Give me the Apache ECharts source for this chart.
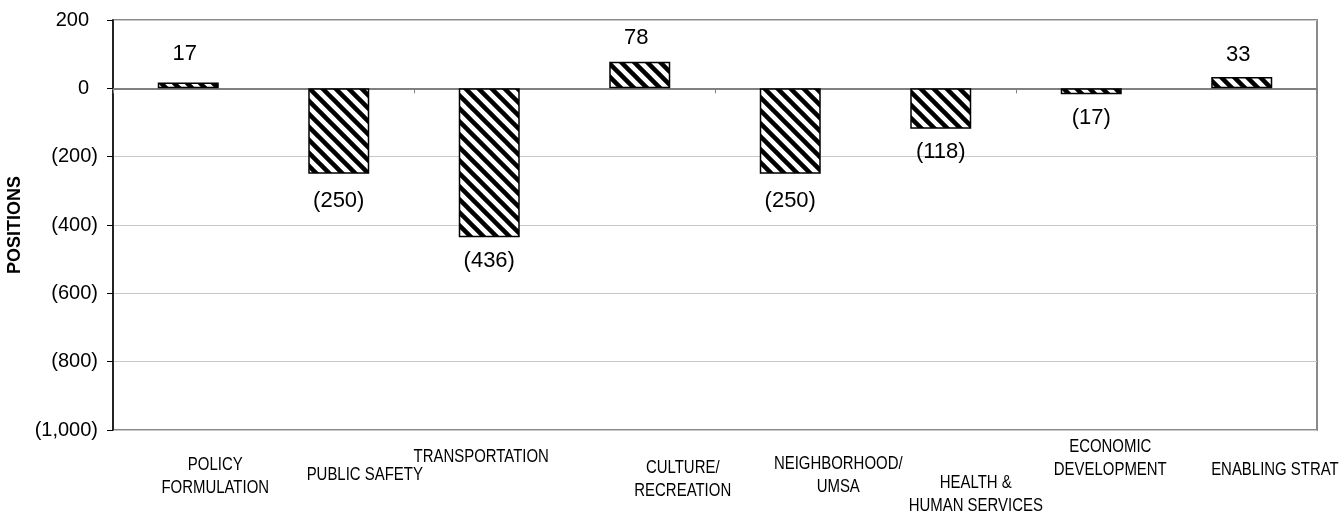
<!DOCTYPE html>
<html>
<head>
<meta charset="utf-8">
<script src="https://cdn.jsdelivr.net/npm/echarts@6/dist/echarts.min.js"></script>
<style>
  html, body { margin: 0; padding: 0; background: #fff; }
  #chart { width: 1339px; height: 514px; }
</style>
</head>
<body>
<div id="chart"></div>
<script>
// Departments and change in positions
const categories = [
  'POLICY\nFORMULATION',
  'PUBLIC SAFETY',
  'TRANSPORTATION',
  'CULTURE/\nRECREATION',
  'NEIGHBORHOOD/\nUMSA',
  'HEALTH &\nHUMAN SERVICES',
  'ECONOMIC\nDEVELOPMENT',
  'ENABLING STRATEGIES'
];
const positions = [17, -250, -436, 78, -250, -118, -17, 33];

// Value axis range
const yMin = -1000;
const yMax = 200;
const yStep = 200;

// Staggered placement of the category labels (offset from category centre / plot bottom)
const labelDx = [27, 26, -8, 43, 48, 35, 19, 56];
const labelDy = [23.5, 34, 16, 26.5, 22.5, 41.5, 5.5, 28.5];
// Gap between bar end and its value label
const valueGap = [18, 16, 13, 13, 16, 12.5, 13, 11.5];

const FONT = '"Liberation Sans", Arial, sans-serif';

function fmt(v) {
  const a = Math.abs(v).toLocaleString('en-US');
  return v < 0 ? '(' + a + ')' : a;
}

// Diagonal hatch fill for the bars
function hatchPattern() {
  const s = 13;
  const c = document.createElement('canvas');
  c.width = s; c.height = s;
  const g = c.getContext('2d');
  g.fillStyle = '#fff';
  g.fillRect(0, 0, s, s);
  g.strokeStyle = '#000';
  g.lineWidth = 4.5;
  for (const k of [-1, 0, 1]) {
    g.beginPath();
    g.moveTo(-2, -2 + k * s);
    g.lineTo(s + 2, s + 2 + k * s);
    g.stroke();
  }
  return c;
}

const chart = echarts.init(document.getElementById('chart'), null, { renderer: 'canvas' });

const option = {
  animation: false,
  backgroundColor: '#fff',
  grid: {
    left: 113, right: 22, top: 20, bottom: 84,
    containLabel: false,
    outerBoundsMode: 'none',
    show: true,
    borderColor: '#8a8a8a',
    borderWidth: 2,
    backgroundColor: 'transparent'
  },
  xAxis: [{
    type: 'category',
    data: categories,
    axisLine: { onZero: true, lineStyle: { color: '#808080', width: 2 } },
    axisTick: { show: true, inside: false, length: 5, lineStyle: { color: '#808080', width: 1 } },
    axisLabel: { show: false },
    splitLine: { show: false }
  }],
  yAxis: {
    type: 'value',
    min: yMin,
    max: yMax,
    interval: yStep,
    name: 'POSITIONS',
    nameLocation: 'middle',
    nameGap: 80,
    nameTextStyle: { fontFamily: FONT, fontSize: 18, fontWeight: 'bold', color: '#000' },
    axisLine: { show: true, lineStyle: { color: '#000', width: 1.5 } },
    axisTick: { show: true, inside: false, length: 6, lineStyle: { color: '#000', width: 1 } },
    axisLabel: {
      margin: 15,
      fontFamily: FONT,
      fontSize: 20,
      color: '#000',
      formatter: v => v < 0 ? fmt(v) : '{p|' + fmt(v) + '}',
      rich: { p: { fontFamily: FONT, fontSize: 20, color: '#000', padding: [0, 9, 0, 0] } }
    },
    splitLine: { show: true, lineStyle: { color: '#c8c8c8', width: 1 } }
  },
  series: [{
    type: 'bar',
    barWidth: 61,
    data: positions.map((v, i) => ({
      value: v,
      label: { position: v < 0 ? 'bottom' : 'top', distance: valueGap[i] }
    })),
    itemStyle: {
      color: { image: hatchPattern(), repeat: 'repeat' },
      borderColor: '#000',
      borderWidth: 1.5
    },
    label: {
      show: true,
      fontFamily: FONT,
      fontSize: 22,
      color: '#000',
      formatter: p => p.value < 0 ? fmt(p.value) : '{p|' + fmt(p.value) + '}',
      rich: { p: { fontFamily: FONT, fontSize: 22, color: '#000', padding: [0, 7, 0, 0] } }
    }
  }]
};

chart.setOption(option);

// Category labels, placed from the axis scale
const baseY = chart.convertToPixel({ yAxisIndex: 0 }, yMin);
const labels = categories.map((c, i) => {
  const cx = chart.convertToPixel({ xAxisIndex: 0 }, i);
  return {
    type: 'text',
    x: cx + labelDx[i],
    y: baseY + labelDy[i],
    scaleX: 0.83,
    silent: true,
    style: {
      text: c,
      font: '18px ' + FONT,
      fill: '#000',
      textFill: '#000',
      align: 'center',
      textAlign: 'center',
      verticalAlign: 'top',
      textVerticalAlign: 'top',
      lineHeight: 23
    }
  };
});
chart.setOption({ graphic: { elements: labels } });
</script>
</body>
</html>
